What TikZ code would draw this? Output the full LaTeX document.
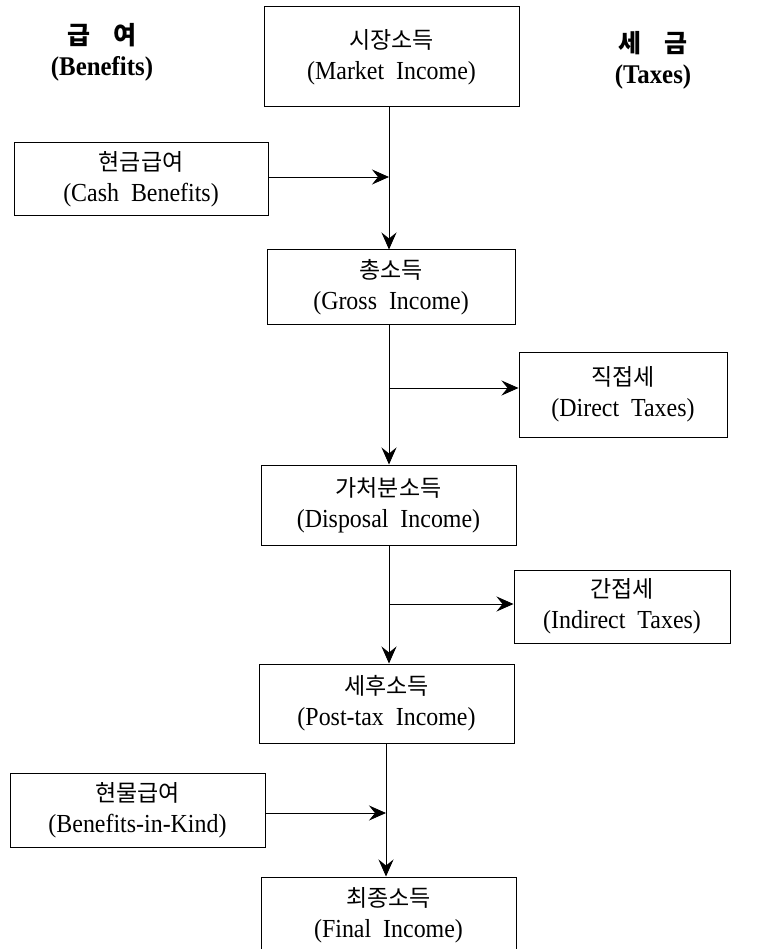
\documentclass[tikz,border=0pt]{standalone}
\usepackage{fontspec}
\setmainfont{Liberation Serif}[FakeStretch=0.92]
\newfontfamily\kr{Noto Sans CJK KR}
\usetikzlibrary{arrows.meta}
\begin{document}
\begin{tikzpicture}[x=1pt,y=-1pt,
  box/.style={draw, line width=1pt, inner sep=0pt, align=center,
    font=\fontsize{26}{31}\selectfont},
  flow/.style={line width=0.8pt, -{Stealth[length=17pt,width=15pt,inset=6pt]}},
  head/.style={align=center, font=\bfseries\fontsize{27}{31}\selectfont}]
\useasboundingbox (0,0) rectangle (765,949);
\clip (0,0) rectangle (765,949);
% headings
\node[head] (hb) at (102,52.5) {{\kr\fontsize{25}{31}\selectfont 급\hspace{24pt}여}\\(Benefits)};
\node[head] (ht) at (653,60.5) {{\kr\fontsize{25}{31}\selectfont 세\hspace{24pt}금}\\(Taxes)};
% boxes
\node[box, minimum width=255pt, minimum height=100pt] (market) at (391.5,57) {{\kr\fontsize{23}{31}\selectfont 시장소득}\\(Market~ Income)};
\node[box, minimum width=254pt, minimum height=73pt] (cash) at (141,179.5) {{\kr\fontsize{23}{31}\selectfont 현금급여}\\(Cash~ Benefits)};
\node[box, minimum width=248pt, minimum height=74pt] (gross) at (391,287) {{\kr\fontsize{23}{31}\selectfont 총소득}\\(Gross~ Income)};
\node[box, minimum width=208pt, minimum height=85pt] (direct) at (623,394.5) {{\kr\fontsize{23}{31}\selectfont 직접세}\\(Direct~ Taxes)};
\node[box, minimum width=255pt, minimum height=80pt] (disp) at (388.5,505) {{\kr\fontsize{23}{31}\selectfont 가처분소득}\\(Disposal~ Income)};
\node[box, minimum width=216pt, minimum height=73pt] (indirect) at (622,606.5) {{\kr\fontsize{23}{31}\selectfont 간접세}\\(Indirect~ Taxes)};
\node[box, minimum width=255pt, minimum height=79pt] (post) at (386.5,703.5) {{\kr\fontsize{23}{31}\selectfont 세후소득}\\(Post-tax~ Income)};
\node[box, minimum width=255pt, minimum height=74pt] (kind) at (137.5,810) {{\kr\fontsize{23}{31}\selectfont 현물급여}\\(Benefits-in-Kind)};
\node[box, minimum width=255pt, minimum height=76pt] (final) at (388.5,915) {{\kr\fontsize{23}{31}\selectfont 최종소득}\\(Final~ Income)};
% junctions
\coordinate (j1) at (389,177);
\coordinate (j2) at (389,388);
\coordinate (j3) at (389,604);
\coordinate (j4) at (386,813);
% connectors
\draw[flow] (j1 |- market.south) -- (j1 |- gross.north);
\draw[flow] (cash.east |- j1) -- (j1);
\draw[flow] (j2 |- gross.south) -- (j2 |- disp.north);
\draw[flow] (j2) -- (direct.west |- j2);
\draw[flow] (j3 |- disp.south) -- (j3 |- post.north);
\draw[flow] (j3) -- (indirect.west |- j3);
\draw[flow] (j4 |- post.south) -- (j4 |- final.north);
\draw[flow] (kind.east |- j4) -- (j4);
\end{tikzpicture}
\end{document}
